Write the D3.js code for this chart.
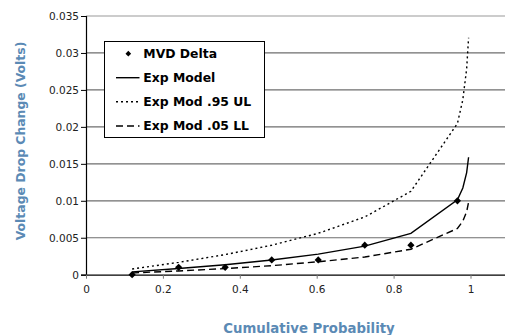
<!DOCTYPE html>
<html>
<head>
<meta charset="utf-8">
<script src="https://cdn.jsdelivr.net/npm/d3@7"></script>
<style>
html,body{margin:0;padding:0;background:#fff;}
svg{display:block;font-family:"DejaVu Sans",sans-serif;}
</style>
</head>
<body>
<svg id="chart" width="505" height="335"></svg>
<script>
// Data
const pointsP = [0.12, 0.241, 0.362, 0.483, 0.604, 0.725, 0.845, 0.966];
const mvdDelta = [0, 0.001, 0.001, 0.002, 0.002, 0.004, 0.004, 0.010];

const curveP = [0.12, 0.241, 0.362, 0.483, 0.604, 0.725, 0.845, 0.966, 0.98, 0.99, 0.995];
const expModel = [0.00038, 0.00083, 0.00135, 0.00198, 0.00278, 0.00387, 0.00559, 0.01014, 0.01174, 0.01382, 0.01589];
const expUL = [0.00077, 0.00167, 0.00272, 0.00399, 0.0056, 0.00781, 0.01128, 0.02046, 0.02367, 0.02786, 0.03205];
const expLL = [0.00024, 0.00051, 0.00083, 0.00122, 0.00175, 0.00239, 0.00345, 0.00625, 0.00724, 0.00852, 0.0098];

const xTicks = [0, 0.2, 0.4, 0.6, 0.8, 1];
const yTicks = [0, 0.005, 0.01, 0.015, 0.02, 0.025, 0.03, 0.035];
const legendLabels = ["MVD Delta", "Exp Model", "Exp Mod .95 UL", "Exp Mod .05 LL"];

(function () {
const svg = d3.select("#chart");
const pl = 86, pr = 505, pt = 16, pb = 274.7;

const x = d3.scaleLinear().domain([0, 1]).range([pl, 470.5]);
const y = d3.scaleLinear().domain([0, 0.035]).range([pb, pt]);

// gridlines
svg.append("g").selectAll("line").data(yTicks.filter(d => d > 0)).join("line")
  .attr("x1", pl).attr("x2", pr)
  .attr("y1", d => y(d)).attr("y2", d => y(d))
  .attr("stroke", d => d === 0.035 ? "#9a9a9a" : "#6e6e6e")
  .attr("stroke-width", 1.2);

// y axis
const yAxis = svg.append("g").attr("transform", `translate(${pl},0)`)
  .call(d3.axisLeft(y).tickValues(yTicks).tickFormat(d => d === 0 ? "0" : String(+d.toFixed(3))).tickSize(5).tickPadding(2));
yAxis.select(".domain").attr("stroke", "#000").attr("stroke-width", 1.2);
yAxis.selectAll(".tick line").attr("stroke", "#000");
yAxis.selectAll("text").attr("font-size", "10.5px").attr("font-family", "DejaVu Sans").attr("fill", "#222");

// x axis
const xAxis = svg.append("g").attr("transform", `translate(0,${pb})`)
  .call(d3.axisBottom(x).tickValues(xTicks).tickFormat(d => String(d)).tickSize(4).tickSizeOuter(0).tickPadding(7));
xAxis.select(".domain").attr("d", `M${pl},0.5H${pr}`).attr("stroke", "#000").attr("stroke-width", 1.2);
xAxis.selectAll(".tick line").attr("stroke", "#777");
xAxis.selectAll("text").attr("font-size", "10.5px").attr("font-family", "DejaVu Sans").attr("fill", "#222");

// lines
const line = d3.line().x(d => x(d[0])).y(d => y(d[1]));
const series = [
  {vals: expModel, dash: null},
  {vals: expUL, dash: "2,3"},
  {vals: expLL, dash: "7,4"}
];
series.forEach(s => {
  svg.append("path")
    .datum(curveP.map((p, i) => [p, s.vals[i]]))
    .attr("d", line)
    .attr("fill", "none")
    .attr("stroke", "#000")
    .attr("stroke-width", 1.4)
    .attr("stroke-dasharray", s.dash);
});

// points (square rotated 45deg = diamond)
const diamond = d3.symbol().type(d3.symbolSquare).size(26);
svg.append("g").selectAll("path").data(pointsP.map((p, i) => [p, mvdDelta[i]])).join("path")
  .attr("d", diamond)
  .attr("transform", d => `translate(${x(d[0])},${y(d[1])}) rotate(45)`)
  .attr("fill", "#000");

// legend
const lg = svg.append("g");
lg.append("rect").attr("x", 104.5).attr("y", 41.5).attr("width", 160).attr("height", 96)
  .attr("fill", "#fff").attr("stroke", "#000").attr("stroke-width", 1);
const rowY = [53.7, 77.7, 101.7, 126];
const dashes = [null, null, "2,3", "7,4"];
legendLabels.forEach((lab, i) => {
  if (i === 0) {
    lg.append("path").attr("d", d3.symbol().type(d3.symbolSquare).size(16))
      .attr("transform", `translate(128.3,${rowY[i]}) rotate(45)`).attr("fill", "#000");
  } else {
    lg.append("line").attr("x1", 116).attr("x2", 139.5).attr("y1", rowY[i]).attr("y2", rowY[i])
      .attr("stroke", "#000").attr("stroke-width", 1.4).attr("stroke-dasharray", dashes[i]);
  }
  lg.append("text").attr("x", 143.3).attr("y", rowY[i]).attr("dy", "0.36em")
    .attr("font-size", "12.4px").attr("font-weight", "bold").attr("fill", "#000").text(lab);
});

// axis titles
svg.append("text").attr("x", 309).attr("y", 328).attr("dy", "0.36em").attr("text-anchor", "middle")
  .attr("font-size", "13.3px").attr("font-weight", "bold").attr("fill", "#5b8ab5").text("Cumulative Probability");
svg.append("text").attr("transform", "translate(21,141) rotate(-90)").attr("dy", "0.36em").attr("text-anchor", "middle")
  .attr("font-size", "12.4px").attr("font-weight", "bold").attr("fill", "#5b8ab5").text("Voltage Drop Change (Volts)");
})();
</script>
</body>
</html>
